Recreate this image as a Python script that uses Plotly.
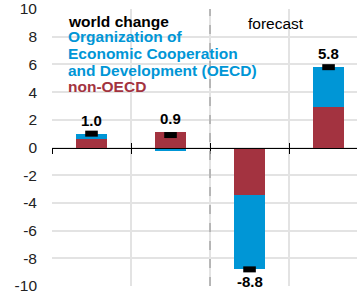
import plotly.graph_objects as go

# ---- data ----
categories = ["period 1", "period 2", "period 3 (forecast)", "period 4 (forecast)"]
non_oecd = [0.6, 1.15, -3.4, 2.9]
oecd = [0.4, -0.25, -5.4, 2.9]
world = [1.0, 0.9, -8.8, 5.8]
y_ticks = list(range(-10, 11, 2))
y_tick_labels = [str(v) for v in y_ticks]

RED = "#A33340"
BLUE = "#0096D6"
FONT = "Liberation Sans, Arial, sans-serif"

xpos = list(range(len(categories)))
boundaries = [i - 0.5 for i in xpos]

fig = go.Figure()
fig.add_trace(go.Bar(x=xpos, y=non_oecd, name="non-OECD", marker_color=RED,
                     marker_line_width=0, width=0.39, hovertext=categories))
fig.add_trace(go.Bar(x=xpos, y=oecd, name="OECD", marker_color=BLUE,
                     marker_line_width=0, width=0.39, hovertext=categories))
fig.add_trace(go.Scatter(x=xpos, y=world, mode="markers", name="world change",
                         marker=dict(symbol="line-ew-open", size=9, color="black",
                                     line=dict(width=6, color="black"))))

# value labels
for i, w in enumerate(world):
    pos_top = sum(v for v in (non_oecd[i], oecd[i]) if v > 0)
    neg_bot = sum(v for v in (non_oecd[i], oecd[i]) if v < 0)
    if w >= 0:
        fig.add_annotation(x=i, y=pos_top, text=f"<b>{w:.1f}</b>", showarrow=False,
                           yanchor="bottom", yshift=3,
                           font=dict(size=15, color="black", family=FONT))
    else:
        fig.add_annotation(x=i, y=neg_bot, text=f"<b>{w:.1f}</b>", showarrow=False,
                           yanchor="top", yshift=-2,
                           font=dict(size=15, color="black", family=FONT))

# legend-style text
legend_lines = [
    ("world change", "black", 9.08),
    ("Organization of", BLUE, 8.0),
    ("Economic Cooperation", BLUE, 6.8),
    ("and Development (OECD)", BLUE, 5.53),
    ("non-OECD", RED, 4.44),
]
for txt, col, yy in legend_lines:
    fig.add_annotation(xref="x domain", x=0.047, y=yy, text=f"<b>{txt}</b>",
                       showarrow=False, xanchor="left", yanchor="middle",
                       font=dict(size=15.5, color=col, family=FONT))

fig.add_annotation(x=2.34, y=8.92, text="forecast", showarrow=False,
                   font=dict(size=15.5, color="black", family=FONT))

fig.add_shape(type="line", x0=1.5, x1=1.5, yref="paper", y0=0, y1=1,
              line=dict(color="#a8a8a8", width=1.5, dash="dash"), layer="above")

fig.update_layout(
    width=357, height=296,
    margin=dict(l=52, r=0, t=9, b=10, autoexpand=False),
    barmode="relative",
    bargap=0,
    showlegend=False,
    plot_bgcolor="white", paper_bgcolor="white",
    font=dict(family=FONT, size=15.5, color="#222"),
)
xr = [-0.5, 3.36]
fig.update_xaxes(range=xr, tickvals=boundaries, showticklabels=False,
                 showgrid=True, gridcolor="#e3e3e3", gridwidth=1.5,
                 anchor="free", position=0.5, showline=True, linecolor="black",
                 linewidth=1, ticks="inside", ticklen=5, tickcolor="black",
                 tickwidth=1.2, zeroline=False, automargin=False)
fig.update_layout(xaxis2=dict(range=xr, overlaying="x", anchor="free", position=0.5,
                              side="bottom", tickvals=boundaries, showticklabels=False,
                              showgrid=False, showline=False, zeroline=False,
                              ticks="outside", ticklen=5, tickcolor="black",
                              tickwidth=1.2, automargin=False))
fig.add_trace(go.Scatter(x=[None], y=[None], xaxis="x2", showlegend=False,
                         hoverinfo="skip"))
fig.update_yaxes(range=[-10, 10], tickvals=y_ticks, ticktext=y_tick_labels,
                 showgrid=True, automargin=False,
                 gridcolor="#e3e3e3", gridwidth=1.5, zeroline=False,
                 ticklabelstandoff=14, tickfont=dict(size=15.5, color="#222"))

fig.write_html("out.html", config={"displayModeBar": False},
               post_script="document.body.style.margin='0';")
